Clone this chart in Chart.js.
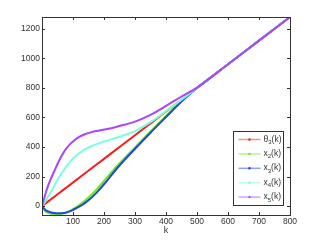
<!DOCTYPE html>
<html>
<head>
<meta charset="utf-8">
<script src="https://cdn.jsdelivr.net/npm/chart.js@4.4.1/dist/chart.umd.min.js"></script>
<style>
  html, body { margin: 0; padding: 0; background: #fff; }
</style>
</head>
<body>
<canvas id="chart" width="321" height="242"></canvas>
<script>
// values
const kValues = [0, 10, 20, 30, 40, 50, 60, 70, 80, 90, 100, 120, 140, 160, 180, 200, 220, 250, 300, 350, 400, 450, 500, 600, 700, 800];
const theta3 = [0, 16, 32, 48, 64, 80, 96, 112, 128, 144, 160, 192, 224, 256, 288, 320, 352, 400, 480, 560, 640, 720, 800, 960, 1120, 1280];
const x2 = [0, -33, -46, -52, -55, -55, -53, -48, -41, -32, -20, 8, 40, 78, 122, 170, 220, 290, 398, 505, 610, 712, 800, 960, 1120, 1280];
const x3 = [0, -24, -36, -43, -47, -49, -49, -47, -42, -35, -25, -3, 24, 58, 100, 148, 200, 275, 388, 497, 603, 708, 800, 960, 1120, 1280];
const x4 = [0, 30, 65, 100, 140, 178, 212, 243, 272, 298, 322, 358, 386, 406, 423, 437, 450, 470, 508, 568, 642, 720, 800, 960, 1120, 1280];
const x5 = [0, 75, 140, 192, 238, 285, 328, 364, 394, 418, 438, 468, 488, 501, 510, 518, 526, 542, 572, 618, 678, 742, 802, 960, 1120, 1280];

const xTicks = [100, 200, 300, 400, 500, 600, 700, 800];
const yTicks = [0, 200, 400, 600, 800, 1000, 1200];

const seriesBase = ['θ', 'x', 'x', 'x', 'x'];
const seriesSub = ['3', '2', '3', '4', '5'];
const seriesData = [theta3, x2, x3, x4, x5];
const seriesColors = ['#ff1a1a', '#66ee11', '#2244ee', '#77ffe0', '#aa44ff'];

const FONT = '"Liberation Sans", Arial, sans-serif';

const datasets = seriesData.map((vals, i) => ({
    label: seriesBase[i] + seriesSub[i] + '(k)',
    data: kValues.map((k, j) => ({ x: k, y: vals[j] })),
    borderColor: seriesColors[i],
    borderWidth: 2,
    pointRadius: 0,
    fill: false,
    cubicInterpolationMode: 'monotone',
    order: seriesData.length - i
}));

// box with inward ticks, like the original axes
const framePlugin = {
    id: 'frame',
    afterDatasetsDraw(chart) {
        const { ctx, chartArea: a, scales: { x, y } } = chart;
        ctx.save();
        ctx.strokeStyle = '#333';
        ctx.lineWidth = 1;
        ctx.beginPath();
        xTicks.forEach(v => {
            const px = Math.round(x.getPixelForValue(v)) + 0.5;
            ctx.moveTo(px, a.bottom); ctx.lineTo(px, a.bottom - 3);
            ctx.moveTo(px, a.top); ctx.lineTo(px, a.top + 3);
        });
        yTicks.forEach(v => {
            const py = Math.round(y.getPixelForValue(v)) + 0.5;
            ctx.moveTo(a.left, py); ctx.lineTo(a.left + 3, py);
            ctx.moveTo(a.right, py); ctx.lineTo(a.right - 3, py);
        });
        ctx.stroke();
        ctx.strokeRect(Math.round(a.left) + 0.5, Math.round(a.top) + 0.5,
            Math.round(a.right - a.left), Math.round(a.bottom - a.top));
        ctx.restore();
    }
};

const legendPlugin = {
    id: 'boxLegend',
    afterDraw(chart) {
        const { ctx, chartArea: a } = chart;
        const w = 50, h = 74;
        const left = Math.round(a.right - 7 - w) + 0.5;
        const top = Math.round(a.bottom - 10 - h) + 0.5;
        ctx.save();
        ctx.fillStyle = '#fff';
        ctx.fillRect(left, top, w, h);
        ctx.strokeStyle = '#333';
        ctx.lineWidth = 1;
        ctx.strokeRect(left, top, w, h);
        seriesBase.forEach((b, i) => {
            const cy = top + 8 + i * 14.4;
            ctx.globalAlpha = 0.5;
            ctx.strokeStyle = seriesColors[i];
            ctx.lineWidth = 1.5;
            ctx.beginPath();
            ctx.moveTo(left + 5, cy); ctx.lineTo(left + 27, cy);
            ctx.stroke();
            ctx.globalAlpha = 1;
            ctx.fillStyle = seriesColors[i];
            ctx.beginPath();
            ctx.arc(left + 16, cy, 1.2, 0, Math.PI * 2);
            ctx.fill();
            ctx.fillStyle = '#333';
            ctx.textBaseline = 'alphabetic';
            let tx = left + 30;
            ctx.font = '8.5px ' + FONT;
            ctx.fillText(b, tx, cy + 2);
            tx += ctx.measureText(b).width;
            ctx.font = '6px ' + FONT;
            ctx.fillText(seriesSub[i], tx, cy + 4.5);
            tx += ctx.measureText(seriesSub[i]).width;
            ctx.font = '8.5px ' + FONT;
            ctx.fillText('(k)', tx, cy + 2);
        });
        ctx.restore();
    }
};

new Chart(document.getElementById('chart'), {
    type: 'line',
    data: { datasets },
    options: {
        responsive: false,
        animation: false,
        layout: { padding: { top: 17, right: 31, left: 0, bottom: 0 } },
        plugins: { legend: { display: false }, tooltip: { enabled: false } },
        scales: {
            x: {
                type: 'linear',
                min: 0,
                max: 800,
                grid: { display: false, drawTicks: false },
                border: { display: false },
                ticks: {
                    color: '#333', font: { family: FONT, size: 8.5 }, padding: 2, maxRotation: 0, autoSkip: false,
                    callback: v => String(v)
                },
                afterBuildTicks: s => { s.ticks = xTicks.map(v => ({ value: v })); },
                afterFit: s => { s.height = 27; },
                title: { display: true, text: 'k', color: '#333', font: { family: FONT, size: 9 }, padding: { top: 0, bottom: 6 } }
            },
            y: {
                type: 'linear',
                min: -60,
                max: 1280,
                grid: { display: false, drawTicks: false },
                border: { display: false },
                ticks: { color: '#333', font: { family: FONT, size: 8.5 }, padding: 2, callback: v => String(v) },
                afterBuildTicks: s => { s.ticks = yTicks.map(v => ({ value: v })); },
                afterFit: s => { s.width = 42; }
            }
        }
    },
    plugins: [framePlugin, legendPlugin]
});
</script>
</body>
</html>
